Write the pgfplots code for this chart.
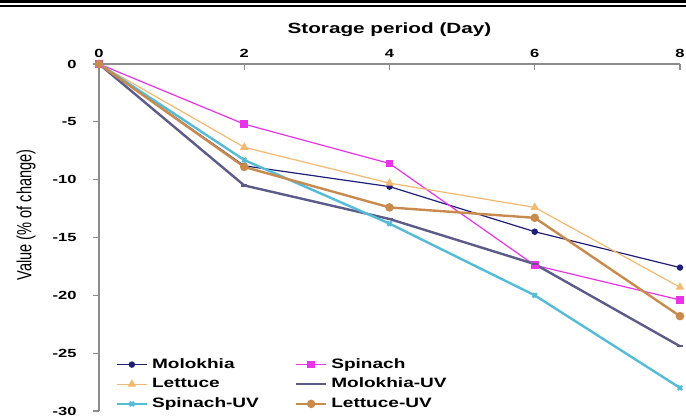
\documentclass[border=0pt]{standalone}
\usepackage{pgfplots}
\pgfplotsset{compat=1.18}
\usepackage{fontspec}
\setmainfont{Liberation Sans}
\newfontfamily\wide[FakeStretch=1.4]{Liberation Sans}
\usetikzlibrary{calc}
\definecolor{cMol}{HTML}{1F1F7A}
\definecolor{cSpi}{HTML}{E833E8}
\definecolor{cLet}{HTML}{F5B870}
\definecolor{cMolUV}{HTML}{5C5C8A}
\definecolor{cSpiUV}{HTML}{55BCD8}
\definecolor{cLetUV}{HTML}{C98A4E}
\definecolor{axgray}{HTML}{8C8C8C}
\begin{document}
\begin{tikzpicture}
\begin{axis}[
  scale only axis,
  width=290.5pt, height=173.5pt,
  xmin=0, xmax=8, ymin=-30, ymax=0,
  axis x line=top, axis y line=left,
  axis line style={axgray, line width=0.6pt, -},
  xtick={0,2,4,6,8}, ytick={-30,-25,-20,-15,-10,-5,0},
  /pgf/number format/assume math mode=true,
  ticklabel style={font=\wide\bfseries\fontsize{5.9}{6}\selectfont},
  y tick style={axgray, line width=0.6pt},
  x tick style={axgray, line width=0.6pt},
  ytick align=outside, xtick align=inside,
  major tick length=3pt,
  yticklabel style={anchor=east, inner sep=0pt, xshift=-8pt},
  xticklabel style={anchor=south, inner sep=0pt, yshift=3pt},
  title={\wide\bfseries\fontsize{7.4}{8}\selectfont Storage period (Day)},
  title style={at={(axis description cs:0.5,1)}, anchor=center, yshift=11pt},
  ylabel={\scalebox{1}[1.4]{\fontsize{7.3}{8}\selectfont Value (\% of change)}},
  ylabel style={at={(axis description cs:-0.1256,0.565)}, anchor=center},
  clip=false,
  legend columns=2,
  legend cell align=left,
  legend style={draw=none, fill=none, at={(axis description cs:0.028,0.165)}, anchor=north west,
    font=\wide\bfseries\fontsize{6.8}{7}\selectfont, inner sep=0pt,
    row sep=-0.6pt,
    /tikz/column 2/.style={column sep=16pt}},
  legend image code/.code={\draw[mark repeat=2,mark phase=2] plot coordinates {(0pt,0pt)(7.5pt,0pt)(15pt,0pt)};},
]
\coordinate (SW) at (rel axis cs:0,0);
\coordinate (NE) at (rel axis cs:1,1);
\addplot[cMol, line width=0.6pt, mark=*, mark size=1.3pt] coordinates {(0,0)(2,-8.8)(4,-10.6)(6,-14.5)(8,-17.6)};
\addlegendentry{Molokhia}
\addplot[cSpi, line width=0.6pt, mark=square*, mark size=1.6pt] coordinates {(0,0)(2,-5.2)(4,-8.6)(6,-17.4)(8,-20.4)};
\addlegendentry{Spinach}
\addplot[cLet, line width=0.6pt, mark=triangle*, mark size=1.9pt] coordinates {(0,0)(2,-7.2)(4,-10.3)(6,-12.4)(8,-19.3)};
\addlegendentry{Lettuce}
\addplot[cMolUV, line width=1.2pt, mark=-, mark size=1.5pt] coordinates {(0,0)(2,-10.5)(4,-13.4)(6,-17.3)(8,-24.4)};
\addlegendentry{Molokhia-UV}
\addplot[cSpiUV, line width=1.2pt, mark=x, mark size=1.5pt] coordinates {(0,0)(2,-8.3)(4,-13.8)(6,-20.0)(8,-28.0)};
\addlegendentry{Spinach-UV}
\addplot[cLetUV, line width=1.2pt, mark=*, mark size=1.5pt] coordinates {(0,0)(2,-8.9)(4,-12.4)(6,-13.3)(8,-21.8)};
\addlegendentry{Lettuce-UV}
\end{axis}
\pgfresetboundingbox
\path ($(SW)+(-49.5pt,-2.5pt)$) rectangle ($(NE)+(3pt,32pt)$);
\coordinate (TL) at ($(SW|-NE)+(-49.5pt,32pt)$);
\coordinate (TR) at ($(NE)+(3pt,32pt)$);
\fill (TL) rectangle ($(TR)+(0,-1.5pt)$);
\fill ($(TL)+(0,-2.7pt)$) rectangle ($(TR)+(0,-3.5pt)$);
\end{tikzpicture}
\end{document}
